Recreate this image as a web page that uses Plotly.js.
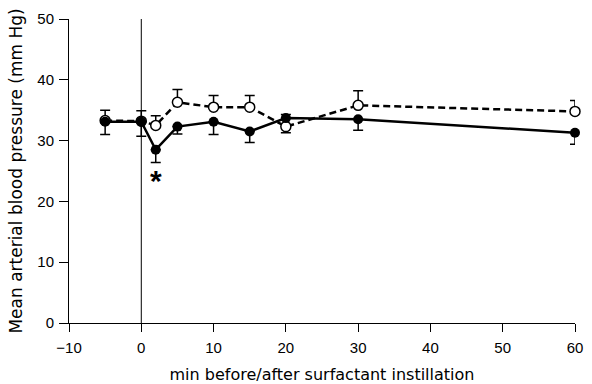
<!DOCTYPE html>
<html>
<head>
<meta charset="utf-8">
<script src="https://cdn.plot.ly/plotly-3.0.1.min.js"></script>
<style>
html,body{margin:0;padding:0;background:#fff;}
#chart{width:592px;height:384px;}
</style>
</head>
<body>
<div id="chart"></div>
<script>
// Time points (min before/after surfactant instillation)
var minutes = [-5, 0, 2, 5, 10, 15, 20, 30, 60];

// Open circles, dashed line
var openMean      = [33.3, 33.2, 32.5, 36.3, 35.5, 35.5, 32.3, 35.8, 34.8];
var openErrUp     = [1.7, 1.7, 1.6, 2.1, 1.9, 1.9, 0, 2.4, 1.8];
var openErrDown   = [0, 0, 0, 0, 0, 0, 1.0, 0, 0];

// Filled circles, solid line
var filledMean    = [33.1, 33.1, 28.5, 32.3, 33.1, 31.5, 33.7, 33.5, 31.3];
var filledErrUp   = [0, 0, 0, 0, 0, 0, 0.6, 0, 0];
var filledErrDown = [2.1, 2.4, 2.1, 1.2, 2.1, 1.8, 0, 1.8, 1.9];

var xTickVals = [-10, 0, 10, 20, 30, 40, 50, 60];
var yTickVals = [0, 10, 20, 30, 40, 50];

var tickFont = {family: 'Liberation Sans, Arial, sans-serif', size: 15, color: '#000'};

var traces = [
  {
    x: minutes, y: openMean, type: 'scatter', mode: 'lines+markers', cliponaxis: false,
    line: {color: '#000', width: 2.5, dash: '7px,4px'},
    marker: {symbol: 'circle', size: 10, color: '#fff', line: {color: '#000', width: 1.5}},
    error_y: {type: 'data', symmetric: false, array: openErrUp, arrayminus: openErrDown,
              color: '#000', thickness: 1.5, width: 5},
    showlegend: false, hoverinfo: 'skip'
  },
  {
    x: minutes, y: filledMean, type: 'scatter', mode: 'lines+markers', cliponaxis: false,
    line: {color: '#000', width: 2.5},
    marker: {symbol: 'circle', size: 10, color: '#000'},
    error_y: {type: 'data', symmetric: false, array: filledErrUp, arrayminus: filledErrDown,
              color: '#000', thickness: 1.5, width: 5},
    showlegend: false, hoverinfo: 'skip'
  }
];

var layout = {
  width: 592, height: 384,
  margin: {l: 69, r: 17, t: 19, b: 61, pad: 0},
  paper_bgcolor: '#fff', plot_bgcolor: '#fff',
  showlegend: false,
  xaxis: {
    range: [-10, 60], tickvals: xTickVals, ticks: 'outside', ticklen: 8, tickwidth: 1,
    tickcolor: '#000', showline: true, linecolor: '#000', linewidth: 1,
    showgrid: false, zeroline: false, tickfont: tickFont, ticklabelstandoff: 3,
    title: {text: 'min before/after surfactant instillation',
            font: {family: 'DejaVu Sans, sans-serif', size: 16, color: '#000'}, standoff: 13}
  },
  yaxis: {
    range: [0, 50], tickvals: yTickVals, ticks: 'outside', ticklen: 9, tickwidth: 1,
    tickcolor: '#000', showline: true, linecolor: '#000', linewidth: 1,
    showgrid: false, zeroline: false, tickfont: tickFont, ticklabelstandoff: 2,
    title: {text: 'Mean arterial blood pressure (mm Hg)',
            font: {family: 'DejaVu Sans, sans-serif', size: 17, color: '#000'}, standoff: 10}
  },
  shapes: [
    {type: 'line', xref: 'x', yref: 'y', x0: 0, x1: 0, y0: 0, y1: 50,
     line: {color: '#000', width: 1}}
  ],
  annotations: [
    {x: 2, y: 23.4, xref: 'x', yref: 'y', text: '<b>*</b>', showarrow: false,
     font: {family: 'Liberation Sans, Arial, sans-serif', size: 30, color: '#000'},
     xanchor: 'center', yanchor: 'middle'}
  ]
};

Plotly.newPlot('chart', traces, layout, {displayModeBar: false, staticPlot: true});
</script>
</body>
</html>
